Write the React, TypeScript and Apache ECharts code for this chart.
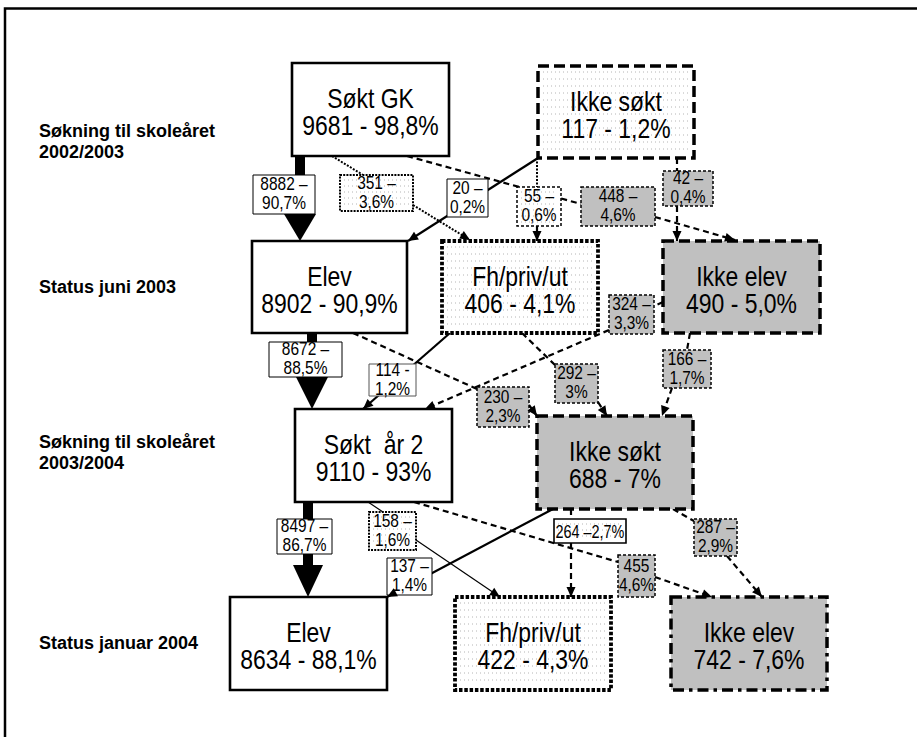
import React, { useEffect, useRef } from "react";
import * as echarts from "echarts";

// ---------- data ----------
const rowLabels = [
  "Søkning til skoleåret\n2002/2003",
  "Status juni 2003",
  "Søkning til skoleåret\n2003/2004",
  "Status januar 2004",
];
const nodeNames = ["Søkt GK", "Ikke søkt", "Elev", "Fh/priv/ut", "Ikke elev", "Søkt  år 2", "Ikke søkt", "Elev", "Fh/priv/ut", "Ikke elev"];
const nodeCounts = [9681, 117, 8902, 406, 490, 9110, 688, 8634, 422, 742];
const nodePcts = ["98,8%", "1,2%", "90,9%", "4,1%", "5,0%", "93%", "7%", "88,1%", "4,3%", "7,6%"];

const flowCounts = [8882, 351, 20, 55, 448, 42, 8672, 114, 324, 230, 292, 166, 8497, 158, 137, 264, 455, 287];
const flowPcts = ["90,7%", "3,6%", "0,2%", "0,6%", "4,6%", "0,4%", "88,5%", "1,2%", "3,3%", "2,3%", "3%", "1,7%", "86,7%", "1,6%", "1,4%", "2,7%", "4,6%", "2,9%"];
const flowJoin = [" –\n", " –\n", " –\n", " –\n", " –\n", " –\n", " –\n", " -\n", " –\n", " –\n", " –\n", " –\n", " –\n", " –\n", " –\n", " –", "\n", " –\n"];

// ---------- layout (positions / styles) ----------
// node boxes: x, y, w, h, style
const nodeLayout: [number, number, number, number, string][] = [
  [292, 63, 157, 93, "solid"],
  [538, 66, 156, 92, "dashDots"],
  [252, 241, 155, 92, "solid"],
  [442, 241, 156, 92, "dotDots"],
  [663, 241, 157, 92, "grayDash"],
  [295, 409, 157, 93, "solid"],
  [537, 416, 156, 93, "grayDash"],
  [230, 597, 157, 93, "solid"],
  [455, 597, 156, 93, "dotDots"],
  [671, 597, 156, 93, "grayDashDot"],
];
// flow label boxes: x, y, w, h, style
const flowLayout: [number, number, number, number, string][] = [
  [253, 175, 62, 39, "w"],
  [340, 175, 73, 36, "p"],
  [447, 179, 41, 38, "w"],
  [517, 187, 44, 39, "wd"],
  [581, 187, 74, 39, "g"],
  [663, 171, 50, 35, "g"],
  [269, 342, 73, 35, "w"],
  [369, 364, 47, 32, "w"],
  [609, 295, 45, 39, "g"],
  [477, 387, 52, 40, "g"],
  [555, 364, 43, 39, "g"],
  [663, 350, 48, 38, "g"],
  [277, 519, 55, 35, "w"],
  [369, 512, 47, 38, "p"],
  [387, 558, 45, 37, "w"],
  [554, 519, 72, 24, "ps"],
  [618, 555, 37, 42, "g"],
  [694, 519, 43, 37, "g"],
];
// connectors: points, kind, arrow
const connectors: [number[][], string, boolean][] = [
  [[[332, 156], [363, 175]], "dot", false],
  [[[413, 205], [470, 240]], "dot", true],
  [[[407, 156], [581, 204]], "dash", false],
  [[[655, 217], [735, 240]], "dash", true],
  [[[538, 158], [408, 241]], "solid", true],
  [[[537, 158], [537, 187]], "dot", false],
  [[[537, 226], [537, 241]], "dash", true],
  [[[677, 158], [677, 171]], "dash", false],
  [[[677, 206], [677, 241]], "dash", true],
  [[[353, 333], [477, 389]], "dash", false],
  [[[529, 405], [537, 416]], "dash", true],
  [[[450, 333], [363, 409]], "solid", true],
  [[[522, 333], [556, 366]], "dash", false],
  [[[598, 402], [607, 416]], "dash", true],
  [[[663, 302], [654, 306]], "dash", false],
  [[[609, 330], [425, 409]], "dash", true],
  [[[690, 333], [687, 350]], "dash", false],
  [[[672, 388], [662, 416]], "dash", true],
  [[[368, 502], [383, 512]], "thin", false],
  [[[416, 540], [500, 597]], "thin", true],
  [[[414, 502], [618, 562]], "dash", false],
  [[[655, 577], [712, 597]], "dash", true],
  [[[553, 509], [387, 597]], "solid", true],
  [[[571, 509], [571, 519]], "dash", false],
  [[[571, 543], [571, 597]], "dash", true],
  [[[673, 509], [694, 521]], "dash", false],
  [[[727, 556], [762, 597]], "dash", true],
];
// thick arrows: stem x, stem w, y top, y base, half width, tip y
const thickArrows: number[][] = [
  [295, 10, 156, 214, 16, 241],
  [307, 10, 333, 377, 16, 409],
  [303, 10, 502, 565, 15, 597],
];
const rowLabelY = [141, 287, 452, 643];

const FONT = '"Liberation Sans", Arial, Helvetica, sans-serif';

function arrowHead(x1: number, y1: number, x2: number, y2: number, len = 10, half = 4.5) {
  const dx = x2 - x1, dy = y2 - y1;
  const d = Math.hypot(dx, dy);
  const ux = dx / d, uy = dy / d;
  const bx = x2 - ux * len, by = y2 - uy * len;
  return [[x2, y2], [bx - uy * half, by + ux * half], [bx + uy * half, by - ux * half]];
}

function dotFill(x: number, y: number, w: number, h: number, z: number, step = 6) {
  const els: any[] = [];
  for (let yy = y + 4; yy < y + h - 2; yy += step) {
    els.push({
      type: "line", z, silent: true,
      shape: { x1: x + 3, y1: yy, x2: x + w - 3, y2: yy },
      style: { stroke: "#b4b4b4", lineWidth: 1, lineDash: [1, 3] },
    });
  }
  return els;
}

function buildElements() {
  const els: any[] = [];
  // frame
  els.push({ type: "polyline", z: 0, shape: { points: [[5, 737], [5, 8.5], [917, 8.5]] }, style: { stroke: "#000", lineWidth: 2.5, fill: "none" } });

  // row labels
  rowLabels.forEach((t, i) => {
    els.push({
      type: "text", z: 10, x: 39, y: rowLabelY[i],
      style: { text: t, x: 0, y: 0, font: `bold 18px ${FONT}`, fill: "#000", align: "left", verticalAlign: "middle", textAlign: "left", textVerticalAlign: "middle", lineHeight: 21 },
    });
  });

  // connectors
  const kinds: Record<string, any> = {
    solid: { lineWidth: 2.2 },
    thin: { lineWidth: 1.2 },
    dash: { lineWidth: 2.2, lineDash: [6, 4] },
    dot: { lineWidth: 2, lineDash: [2, 1.5] },
  };
  connectors.forEach(([pts, kind, arrow]) => {
    els.push({ type: "polyline", z: 1, shape: { points: pts }, style: { stroke: "#000", fill: "none", ...kinds[kind] } });
    if (arrow) {
      const a = pts[pts.length - 2], b = pts[pts.length - 1];
      els.push({ type: "polygon", z: 20, shape: { points: arrowHead(a[0], a[1], b[0], b[1]) }, style: { fill: "#000" } });
    }
  });

  // thick arrows
  thickArrows.forEach(([sx, sw, y0, y1, hw, tip]) => {
    const cx = sx + sw / 2;
    els.push({ type: "rect", z: 2, shape: { x: sx, y: y0, width: sw, height: y1 - y0 + 1 }, style: { fill: "#000" } });
    els.push({ type: "polygon", z: 2, shape: { points: [[cx - hw, y1], [cx + hw, y1], [cx, tip]] }, style: { fill: "#000" } });
  });

  // nodes
  nodeLayout.forEach(([x, y, w, h, st], i) => {
    const gray = st.startsWith("gray");
    const style: any = { fill: gray ? "#c0c0c0" : "#fff", stroke: "#000", lineWidth: 3.5 };
    if (st === "solid") style.lineWidth = 2.6;
    if (st === "dashDots" || st === "grayDash") style.lineDash = [11, 5];
    if (st === "dotDots") { style.lineDash = [3.5, 1.8]; style.lineWidth = 3.8; }
    if (st === "grayDashDot") style.lineDash = [11, 5, 3.5, 5];
    els.push({ type: "rect", z: 5, shape: { x, y, width: w, height: h }, style });
    if (st === "dashDots" || st === "dotDots") els.push(...dotFill(x + 2, y + 2, w - 4, h - 4, 6, 7));
    els.push({
      type: "text", z: 10, x: x + w / 2, y: y + h / 2 + 2.5, scaleX: 0.82,
      style: {
        text: `${nodeNames[i]}\n${nodeCounts[i]} - ${nodePcts[i]}`, x: 0, y: 0,
        font: `28px ${FONT}`, fill: "#000", align: "center", verticalAlign: "middle", textAlign: "center", textVerticalAlign: "middle", lineHeight: 27,
      },
    });
  });

  // flow labels
  flowLayout.forEach(([x, y, w, h, st], i) => {
    const style: any = { fill: st === "g" ? "#c0c0c0" : "#fff", stroke: "#000", lineWidth: 1 };
    if (st === "g" || st === "wd") { style.lineWidth = 1.5; style.lineDash = [3, 2]; }
    if (st === "p") { style.lineWidth = 2; style.lineDash = [2, 1.2]; }
    if (st === "ps") { style.lineWidth = 1.6; }
    if (i === 7) style.stroke = "#555";
    els.push({ type: "rect", z: 12, shape: { x, y, width: w, height: h }, style });
    if (st === "p" || st === "ps" || st === "wd") els.push(...dotFill(x + 1, y + 1, w - 2, h - 2, 13, 6));
    const single = flowJoin[i].indexOf("\n") < 0;
    els.push({
      type: "text", z: 14, x: x + w / 2, y: y + h / 2 + (single ? 0.5 : -0.5), scaleX: single ? 0.8 : 0.86,
      style: {
        text: `${flowCounts[i]}${flowJoin[i]}${flowPcts[i]}`, x: 0, y: 0,
        font: `18px ${FONT}`, fill: "#000", align: "center", verticalAlign: "middle", textAlign: "center", textVerticalAlign: "middle", lineHeight: 19,
      },
    });
  });
  return els;
}

export default function App() {
  const ref = useRef<HTMLDivElement>(null);
  useEffect(() => {
    document.body.style.margin = "0";
    const chart = echarts.init(ref.current!, null, { renderer: "svg" });
    chart.setOption({
      animation: false,
      backgroundColor: "#fff",
      graphic: { elements: buildElements() },
    });
    return () => chart.dispose();
  }, []);
  return <div ref={ref} style={{ position: "absolute", left: 0, top: 0, width: 917, height: 737 }} />;
}
